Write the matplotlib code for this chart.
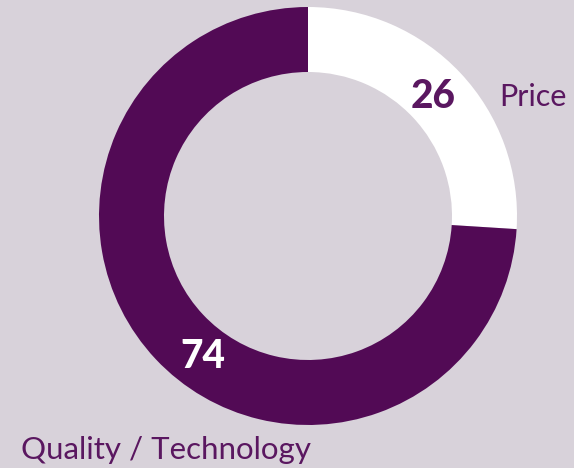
import matplotlib.pyplot as plt

labels = ["Price", "Quality / Technology"]
values = [26, 74]
colors = ["#ffffff", "#520a55"]

bg = "#d8d2da"
txt = "#5a1760"

fig = plt.figure(figsize=(5.74, 4.68), dpi=100, facecolor=bg)
ax = fig.add_axes([0, 0, 1, 1])
ax.set_facecolor(bg)

# work in pixel units, y up
ax.pie(values, colors=colors, startangle=90, counterclock=False,
       center=(308, 252), radius=209,
       wedgeprops=dict(width=65, linewidth=0))
ax.set_xlim(0, 574)
ax.set_ylim(0, 468)
ax.set_aspect("equal")
ax.axis("off")

ax.text(433, 372, str(values[0]), ha="center", va="center", fontsize=28,
        fontweight="black", color=txt, family="Lato")
ax.text(203, 111, str(values[1]), ha="center", va="center", fontsize=28,
        fontweight="black", color="white", family="Lato")
ax.text(533, 371, labels[0], ha="center", va="center", fontsize=22,
        color=txt, family="Lato")
ax.text(166, 18, labels[1], ha="center", va="center", fontsize=22.5,
        color=txt, family="Lato")

fig.savefig("out.png", dpi=100, facecolor=bg)
